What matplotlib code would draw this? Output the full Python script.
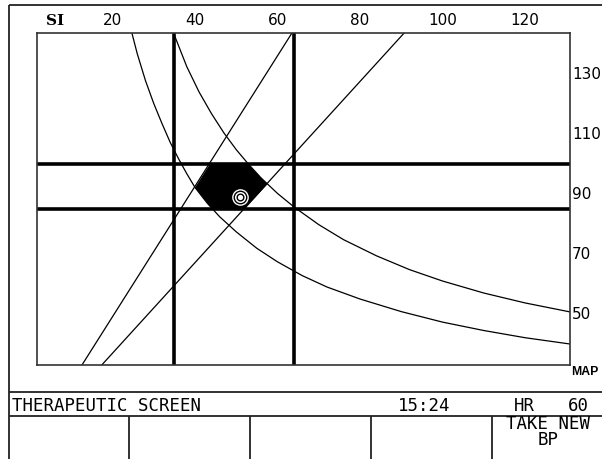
import matplotlib
matplotlib.use("Agg")
import matplotlib.pyplot as plt
import matplotlib.transforms as mtransforms
import numpy as np

# ---------------- data ----------------
si_ticks = [20, 40, 60, 80, 100, 120]
map_ticks = [130, 110, 90, 70, 50]

si_target = [35, 64]       # thick vertical target lines (SI)
map_target = [85, 100]     # thick horizontal target lines (MAP)

# left iso-curve
hyp1_si = [24.7, 26, 28, 30, 32, 34, 36, 38, 40, 43, 46, 50, 55, 60, 66, 72,
           80, 90, 100, 110, 120, 130.9]
hyp1_map = [143.7, 136.8, 127.8, 120.2, 113.5, 107.2, 101.8, 96.8, 92.2, 86.9,
            82.4, 77.4, 71.9, 67.4, 62.8, 59.0, 55.0, 50.8, 47.3, 44.5, 42.1, 40.0]

# right iso-curve
hyp2_si = [34.8, 38, 41, 44, 47, 50, 53, 56, 60, 64, 70, 76, 84, 92, 100, 110,
           120, 130.9]
hyp2_map = [143.7, 132.5, 124.0, 116.8, 110.4, 104.8, 99.9, 95.4, 90.2, 85.7,
            79.8, 74.8, 69.4, 64.8, 61.0, 57.0, 53.7, 50.7]

# straight iso-lines
lineA_si = [63.5, 12.6]
lineA_map = [143.7, 33.0]
lineB_si = [90.7, 17.4]
lineB_map = [143.7, 33.0]

patient_si = 50.9
patient_map = 89.0

status_title = "THERAPEUTIC SCREEN"
status_time = "15:24"
hr_label = "HR"
hr_value = "60"
soft_keys = ["", "", "", "", "TAKE NEW\nBP"]

# ---------------- figure ----------------
W, H = 602, 460
fig = plt.figure(figsize=(W / 100, H / 100), dpi=100)
fig.patch.set_facecolor("white")

bg = fig.add_axes([0, 0, 1, 1])
bg.set_xlim(0, W)
bg.set_ylim(H, 0)
bg.axis("off")

frame_kw = dict(color="#222222", lw=1.3, solid_capstyle="butt")
bg.plot([9, W], [6, 6], **frame_kw)
bg.plot([9, 9], [6, H], **frame_kw)
bg.plot([9, W], [393, 393], **frame_kw)
bg.plot([9, W], [417, 417], **frame_kw)
key_edges = [9, 129, 250, 371, 492, W]
for xk in key_edges[1:-1]:
    bg.plot([xk, xk], [417, H], **frame_kw)

mono = dict(family="DejaVu Sans Mono", fontsize=12.5, color="black")
bg.text(12, 406, status_title, ha="left", va="center", **mono)
bg.text(398, 406, status_time, ha="left", va="center", **mono)
bg.text(514, 406, hr_label, ha="left", va="center", **mono)
bg.text(568, 406, hr_value, ha="left", va="center", **mono)
for i, lab in enumerate(soft_keys):
    if lab:
        cx = (key_edges[i] + key_edges[i + 1]) / 2 + 1
        bg.text(cx, 432, lab, ha="center", va="center", linespacing=0.9, **mono)

bg.text(55, 21, "SI", ha="center", va="center", fontsize=11,
        fontweight="bold", family="DejaVu Serif")
bg.text(571, 372, "MAP", ha="left", va="center", fontsize=8.8,
        fontweight="bold", family="Liberation Sans")

# ---------------- plot area ----------------
ax = fig.add_axes([37 / W, 1 - 366 / H, (570 - 37) / W, (366 - 34) / H])
ax.set_xlim(1.7, 130.9)
ax.set_ylim(33.0, 143.7)
ax.set_facecolor("white")
for s in ax.spines.values():
    s.set_linewidth(1.2)
    s.set_color("#333333")

ax.xaxis.tick_top()
ax.set_xticks(si_ticks)
ax.set_xticklabels([str(v) for v in si_ticks])
ax.yaxis.tick_right()
ax.set_yticks(map_ticks)
ax.set_yticklabels([str(v) for v in map_ticks])
ax.tick_params(axis="x", length=0, pad=4, labelsize=11)
ax.tick_params(axis="y", length=0, pad=1.5, labelsize=11)
off = mtransforms.ScaledTranslation(0, 2.5 / 100, fig.dpi_scale_trans)
for lab in ax.get_yticklabels():
    lab.set_transform(lab.get_transform() + off)

thin = dict(color="black", lw=0.9)
ax.plot(hyp1_si, hyp1_map, **thin)
ax.plot(hyp2_si, hyp2_map, **thin)
ax.plot(lineA_si, lineA_map, **thin)
ax.plot(lineB_si, lineB_map, **thin)

for v in si_target:
    ax.axvline(v, color="black", lw=2.6)
for v in map_target:
    ax.axhline(v, color="black", lw=2.6)

# filled therapeutic region bounded by the four iso-lines
yy = np.linspace(map_target[0], map_target[1], 300)
def at(y, si, mp):
    mp = np.asarray(mp); si = np.asarray(si)
    o = np.argsort(mp)
    return np.interp(y, mp[o], si[o])
left = np.maximum(at(yy, lineA_si, lineA_map), at(yy, hyp1_si, hyp1_map))
right = np.minimum(at(yy, lineB_si, lineB_map), at(yy, hyp2_si, hyp2_map))
ax.fill_betweenx(yy, left, right, where=right > left, color="black", lw=0, zorder=3)

# patient marker (bullseye)
ax.plot(patient_si, patient_map, "o", ms=12, mfc="white", mec="none", zorder=5)
ax.plot(patient_si, patient_map, "o", ms=9, mfc="none", mec="black", mew=1.0, zorder=6)
ax.plot(patient_si, patient_map, "o", ms=4.8, mfc="white", mec="black", mew=1.0, zorder=7)

fig.savefig("out.png", dpi=100)
